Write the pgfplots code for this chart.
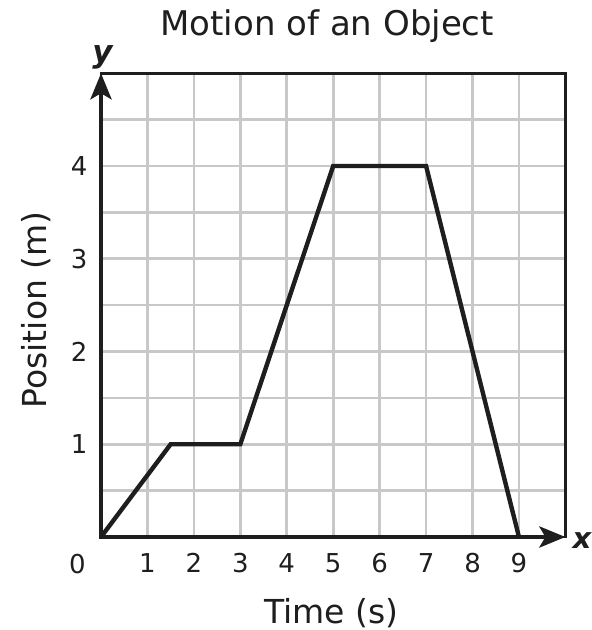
\documentclass[border=0pt]{standalone}
\usepackage{fontspec}
\setmainfont{DejaVu Sans}
\usepackage{pgfplots}
\pgfplotsset{compat=1.18}
\usetikzlibrary{arrows.meta}
\definecolor{gridgray}{RGB}{200,200,200}
\definecolor{ink}{RGB}{30,30,30}
\begin{document}
\begin{tikzpicture}
\begin{axis}[
  scale only axis, width=464.4bp, height=463.75bp,
  xmin=0, xmax=10, ymin=0, ymax=5,
  xtick={1,2,3,4,5,6,7,8,9},
  ytick={0.5,1,1.5,2,2.5,3,3.5,4,4.5},
  yticklabels={,1,,2,,3,,4,},
  major tick length=0pt,
  grid=major,
  grid style={gridgray, line width=2.7bp},
  axis line style={ink, line width=2.7bp},
  clip=false,
  /pgf/number format/assume math mode=true,
  tick label style={font=\fontsize{26bp}{30bp}\selectfont, inner sep=0pt, text=ink},
  xticklabel style={anchor=north, yshift=-16bp},
  yticklabel style={anchor=east, xshift=-13.5bp},
]
\addplot[ink, line width=4.4bp, line join=miter, mark=none] coordinates {(0,0) (1.5,1) (3,1) (5,4) (7,4) (9,0)};
\draw[ink, line width=4.4bp, line cap=rect, -{Stealth[length=26bp,width=21bp,inset=6bp]}] (axis cs:0,0) -- (axis cs:0,5);
\draw[ink, line width=4.4bp, line cap=rect, -{Stealth[length=26bp,width=21bp,inset=6bp]}] (axis cs:0,0) -- (axis cs:10,0);
\node[anchor=base, inner sep=0pt, text=ink, font=\fontsize{26bp}{30bp}\selectfont] at ([xshift=-23.5bp,yshift=-36bp]axis cs:0,0) {0};
\node[anchor=base, inner sep=0pt, text=ink, font=\fontsize{34bp}{40bp}\selectfont] at ([xshift=-6bp,yshift=38bp]axis cs:5,5) {Motion of an Object};
\node[anchor=base, inner sep=0pt, text=ink, font=\fontsize{33bp}{40bp}\selectfont] at ([xshift=-2bp,yshift=-86bp]axis cs:5,0) {Time (s)};
\node[anchor=base, rotate=90, inner sep=0pt, text=ink, font=\fontsize{33bp}{40bp}\selectfont] at ([xshift=-54bp]axis cs:0,2.448) {Position (m)};
\node[anchor=base, inner sep=0pt, text=ink, font=\fontsize{31bp}{36bp}\selectfont\bfseries\itshape] at ([xshift=1.5bp,yshift=11bp]axis cs:0,5) {y};
\node[anchor=base west, inner sep=0pt, text=ink, font=\fontsize{29bp}{34bp}\selectfont\bfseries\itshape] at ([xshift=7bp,yshift=-11bp]axis cs:10,0) {x};
\end{axis}
\pgfresetboundingbox
\path[use as bounding box] (-101bp,-93bp) rectangle (491bp,537bp);
\end{tikzpicture}
\end{document}
